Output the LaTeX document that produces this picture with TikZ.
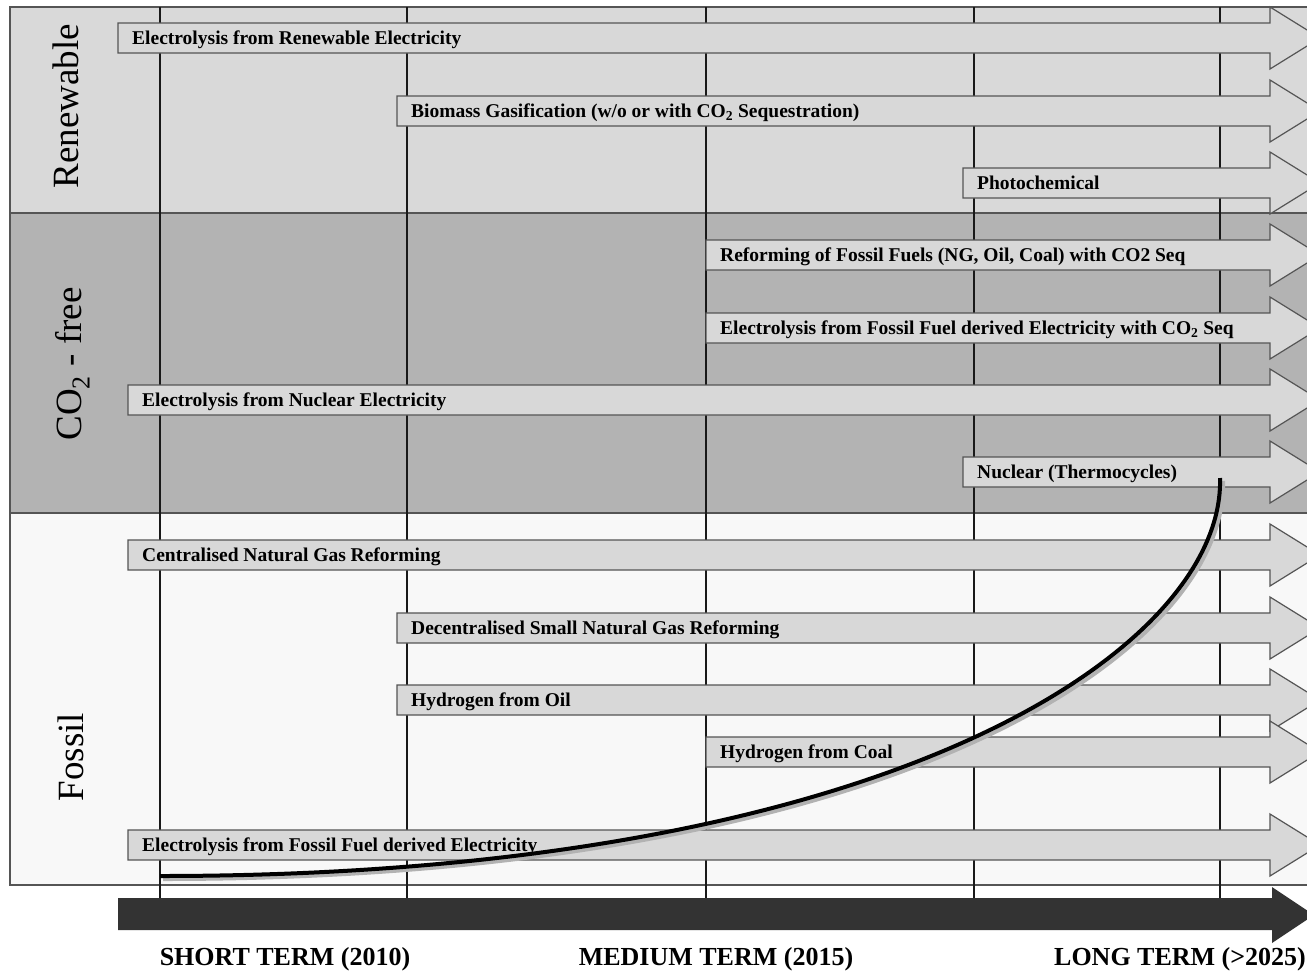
\documentclass[tikz,border=0pt]{standalone}
\usepackage{fontspec}
\setmainfont{Liberation Serif}
\definecolor{renew}{HTML}{D9D9D9}
\definecolor{cofree}{HTML}{B3B3B3}
\definecolor{fossilc}{HTML}{F8F8F8}
\definecolor{arrowfill}{HTML}{D8D8D8}
\definecolor{edgegray}{HTML}{555555}
\definecolor{darkc}{HTML}{333333}
\newcommand\procarrow[4]{%
  \draw[parrow] (#2,#3-15) -- (1270,#3-15) -- (1270,#3-31) -- (1320,#3) -- (1270,#3+31) -- (1270,#3+15) -- (#2,#3+15) -- cycle;
  \node[lbl] (#1) at (#2+14,#3+6) {#4};%
}
\begin{document}
\begin{tikzpicture}[x=1pt,y=-1pt,
  lbl/.style={font=\fontsize{19.5}{21}\selectfont\bfseries, anchor=base west, inner sep=0pt},
  side/.style={font=\fontsize{37}{40}\selectfont, rotate=90, anchor=base, inner sep=0pt},
  term/.style={font=\fontsize{26}{28}\selectfont\bfseries, anchor=base, inner sep=0pt},
  parrow/.style={fill=arrowfill, draw=edgegray, line width=1.2pt},
  vline/.style={line width=2pt, black!90},
  frameline/.style={edgegray, line width=1.5pt},
]
\useasboundingbox (0,0) rectangle (1307,970);
\begin{scope}
\clip (0,0) rectangle (1307,970);
% bands
\fill[renew] (10,7) rectangle (1330,213);
\fill[cofree] (10,213) rectangle (1330,513);
\fill[fossilc] (10,513) rectangle (1330,885);
\draw[frameline] (1330,7) -- (10,7) -- (10,885) -- (1330,885);
\draw[frameline] (10,213) -- (1330,213) (10,513) -- (1330,513);
% time grid
\foreach \x in {160,407,706,974,1220} \draw[vline] (\x,7) -- (\x,898);
% process arrows
\procarrow{p1}{118}{38}{Electrolysis from Renewable Electricity}
\procarrow{p2}{397}{111}{Biomass Gasification (w/o or with CO\textsubscript{2} Sequestration)}
\procarrow{p3}{963}{183}{Photochemical}
\procarrow{p4}{706}{255}{Reforming of Fossil Fuels (NG, Oil, Coal) with CO2 Seq}
\procarrow{p5}{706}{328}{Electrolysis from Fossil Fuel derived Electricity with CO\textsubscript{2} Seq}
\procarrow{p6}{128}{400}{Electrolysis from Nuclear Electricity}
\procarrow{p7}{963}{472}{Nuclear (Thermocycles)}
\procarrow{p8}{128}{555}{Centralised Natural Gas Reforming}
\procarrow{p9}{397}{628}{Decentralised Small Natural Gas Reforming}
\procarrow{p10}{397}{700}{Hydrogen from Oil}
\procarrow{p11}{706}{752}{Hydrogen from Coal}
\procarrow{p12}{128}{845}{Electrolysis from Fossil Fuel derived Electricity}
% time axis arrow
\fill[darkc] (118,898) -- (1272,898) -- (1272,887) -- (1314,915) -- (1272,943) -- (1272,930) -- (118,930) -- cycle;
% trend curve
\coordinate (cs) at (160,876);
\coordinate (ce) at (1220,478);
\draw[gray!60, line width=4pt] (163,879) .. controls (903,879) and (1228,648) .. (1223,481);
\draw[black, line width=4pt] (cs) .. controls (900,876) and (1225,645) .. (ce);
\end{scope}
% side labels
\node[side] (renew) at (78,106) {Renewable};
\node[side] (cofree) at (81,364) {CO\textsubscript{2} - free};
\node[side] (fossil) at (83,757) {Fossil};
% term labels
\node[term] (short) at (285,965) {SHORT TERM (2010)};
\node[term] (medium) at (716,965) {MEDIUM TERM (2015)};
\node[term] (long) at (1180,965) {LONG TERM (>2025)};
\end{tikzpicture}
\end{document}
